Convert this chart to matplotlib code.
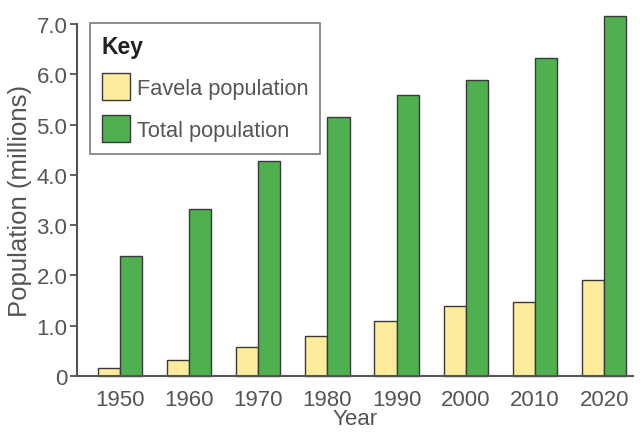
import numpy as np
import matplotlib
matplotlib.use("Agg")
import matplotlib.pyplot as plt

plt.rcParams['font.family'] = ['Liberation Sans', 'DejaVu Sans']

# Rio de Janeiro population, millions
years = ["1950", "1960", "1970", "1980", "1990", "2000", "2010", "2020"]
favela = [0.15, 0.31, 0.57, 0.79, 1.10, 1.40, 1.48, 1.91]
total = [2.38, 3.33, 4.28, 5.16, 5.59, 5.89, 6.32, 7.15]

yellow = "#fdec9c"
green = "#4eb04f"
edge = "#3a3a3a"
grey = "#555555"

fig = plt.figure(figsize=(6.44, 4.35), dpi=100)
ax = fig.add_axes([0.1196, 0.1333, 0.8636, 0.8092])

x = np.arange(len(years))
width = 0.32
ax.bar(x - width/2, favela, width, color=yellow, edgecolor=edge, linewidth=1.0,
       label="Favela population", clip_on=False)
ax.bar(x + width/2, total, width, color=green, edgecolor=edge, linewidth=1.0,
       label="Total population", clip_on=False)

ax.set_xlim(-0.62, 7.42)
ax.set_ylim(0, 7.0)
ax.set_xticks(x)
ax.set_xticklabels(years)
ax.set_yticks(np.arange(0, 8, 1.0))
ax.set_yticklabels(["0"] + [f"{v:.1f}" for v in np.arange(1, 8, 1.0)])
ax.tick_params(axis="x", length=0, pad=9, labelsize=16, labelcolor=grey)
ax.tick_params(axis="y", length=5, width=1.3, color=grey, pad=2, labelsize=16, labelcolor=grey)

for side in ["top", "right"]:
    ax.spines[side].set_visible(False)
for side in ["left", "bottom"]:
    ax.spines[side].set_color(grey)
    ax.spines[side].set_linewidth(1.5)

ax.set_xlabel("Year", fontsize=16, color=grey, labelpad=-1)
ax.set_ylabel("Population (millions)", fontsize=18.5, color=grey, labelpad=3)

leg = ax.legend(title="Key", loc="upper left", bbox_to_anchor=(0.023, 1.003),
                fontsize=15.7, frameon=True, fancybox=False, alignment="left",
                handlelength=1.3, handleheight=1.5, handletextpad=0.3,
                borderpad=0.55, labelspacing=0.7, borderaxespad=0)
leg.get_title().set_fontweight("bold")
leg.get_title().set_fontsize(16.5)
leg.get_title().set_color("#222222")
for t in leg.get_texts():
    t.set_color(grey)
leg.get_frame().set_edgecolor("#666666")
leg.get_frame().set_linewidth(1.3)

fig.savefig("out.png", dpi=100)
